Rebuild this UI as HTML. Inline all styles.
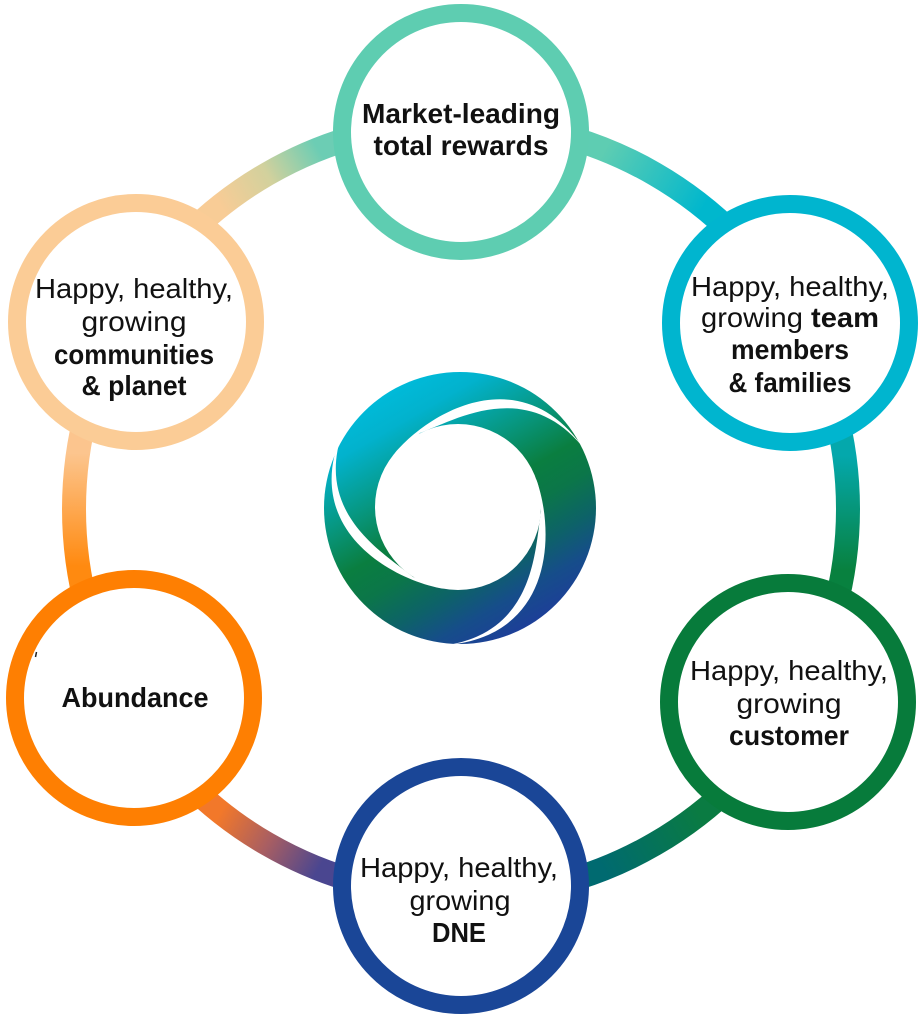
<!DOCTYPE html>
<html>
<head>
<meta charset="utf-8">
<style>
html,body{margin:0;padding:0;background:#fff;}
svg{display:block;}
text{font-family:"Liberation Sans",sans-serif;font-size:28px;fill:#111;text-anchor:middle;}
.b{font-weight:bold;}
</style>
</head>
<body>
<svg width="922" height="1018" viewBox="0 0 922 1018" xmlns="http://www.w3.org/2000/svg">
<defs>
  <linearGradient id="g1" gradientUnits="userSpaceOnUse" x1="461" y1="132" x2="790" y2="323">
    <stop offset="0.35" stop-color="#5ecdb2"/>
    <stop offset="0.65" stop-color="#00b7cd"/>
  </linearGradient>
  <linearGradient id="g2" gradientUnits="userSpaceOnUse" x1="790" y1="323" x2="788" y2="702">
    <stop offset="0.35" stop-color="#04a8ac"/>
    <stop offset="0.65" stop-color="#08813f"/>
  </linearGradient>
  <linearGradient id="g3" gradientUnits="userSpaceOnUse" x1="788" y1="702" x2="461" y2="886">
    <stop offset="0.35" stop-color="#0a7b42"/>
    <stop offset="0.65" stop-color="#006a70"/>
  </linearGradient>
  <linearGradient id="g4" gradientUnits="userSpaceOnUse" x1="461" y1="886" x2="134" y2="698">
    <stop offset="0.35" stop-color="#4a4690"/>
    <stop offset="0.5" stop-color="#a85e62"/>
    <stop offset="0.65" stop-color="#f2782a"/>
  </linearGradient>
  <linearGradient id="g5" gradientUnits="userSpaceOnUse" x1="134" y1="698" x2="136" y2="322">
    <stop offset="0.35" stop-color="#ff8a10"/>
    <stop offset="0.65" stop-color="#fcc58e"/>
  </linearGradient>
  <linearGradient id="g6" gradientUnits="userSpaceOnUse" x1="136" y1="322" x2="461" y2="132">
    <stop offset="0.35" stop-color="#f8cc96"/>
    <stop offset="0.5" stop-color="#d2d19d"/>
    <stop offset="0.65" stop-color="#6ccdb4"/>
  </linearGradient>
  <linearGradient id="lg" gradientUnits="userSpaceOnUse" x1="392" y1="390" x2="528" y2="626">
    <stop offset="0" stop-color="#00bad9"/>
    <stop offset="0.12" stop-color="#02b2cd"/>
    <stop offset="0.33" stop-color="#079780"/>
    <stop offset="0.5" stop-color="#0a7e40"/>
    <stop offset="0.62" stop-color="#0b7649"/>
    <stop offset="0.76" stop-color="#0d6268"/>
    <stop offset="0.88" stop-color="#164d8a"/>
    <stop offset="1" stop-color="#1d3f98"/>
  </linearGradient>
</defs>

<!-- connectors -->
<g fill="none" stroke-width="24">
  <path d="M461 122 A387 387 0 0 1 796.15 315.5" stroke="url(#g1)"/>
  <path d="M796.15 315.5 A387 387 0 0 1 796.15 702.5" stroke="url(#g2)"/>
  <path d="M796.15 702.5 A387 387 0 0 1 461 896" stroke="url(#g3)"/>
  <path d="M461 896 A387 387 0 0 1 125.85 702.5" stroke="url(#g4)"/>
  <path d="M125.85 702.5 A387 387 0 0 1 125.85 315.5" stroke="url(#g5)"/>
  <path d="M125.85 315.5 A387 387 0 0 1 461 122" stroke="url(#g6)"/>
</g>

<!-- circles -->
<g fill="#fff" stroke-width="18">
  <circle cx="461" cy="132" r="119" stroke="#5ecdb1"/>
  <circle cx="790" cy="323" r="119" stroke="#00b5cf"/>
  <circle cx="788" cy="702" r="119" stroke="#077b3b"/>
  <circle cx="461" cy="886" r="119" stroke="#1a4697"/>
  <circle cx="134" cy="698" r="119" stroke="#fe7f02"/>
  <circle cx="136" cy="322" r="119" stroke="#fbcc96"/>
</g>

<!-- center logo -->
<circle cx="460" cy="508" r="136" fill="url(#lg)"/>
<circle cx="458" cy="507" r="83" fill="#fff"/>
<g fill="#fff">
  <path d="M394.4 453.6 C430 411 520 360 582 446 C525 378 455 420 420 433 Z"/>
  <path d="M394.4 453.6 C430 411 520 360 582 446 C525 378 455 420 420 433 Z" transform="rotate(120 458 507)"/>
  <path d="M394.4 453.6 C430 411 520 360 582 446 C525 378 455 420 420 433 Z" transform="rotate(-120 458 507)"/>
</g>

<!-- stray mark -->
<line x1="36.5" y1="652" x2="35.5" y2="657" stroke="#222" stroke-width="1.5"/>

<!-- labels -->
<text class="b" x="461" y="123" textLength="198" lengthAdjust="spacingAndGlyphs">Market-leading</text>
<text class="b" x="461" y="155" textLength="175" lengthAdjust="spacingAndGlyphs">total rewards</text>

<text x="790" y="296" textLength="198" lengthAdjust="spacingAndGlyphs">Happy, healthy,</text>
<text x="790" y="327" textLength="178" lengthAdjust="spacingAndGlyphs">growing <tspan class="b">team</tspan></text>
<text class="b" x="790" y="359" textLength="118" lengthAdjust="spacingAndGlyphs">members</text>
<text class="b" x="790" y="392" textLength="123" lengthAdjust="spacingAndGlyphs">&amp; families</text>

<text x="134" y="298" textLength="198" lengthAdjust="spacingAndGlyphs">Happy, healthy,</text>
<text x="134" y="331" textLength="105" lengthAdjust="spacingAndGlyphs">growing</text>
<text class="b" x="134" y="364" textLength="160" lengthAdjust="spacingAndGlyphs">communities</text>
<text class="b" x="134" y="395" textLength="105" lengthAdjust="spacingAndGlyphs">&amp; planet</text>

<text x="789" y="680" textLength="198" lengthAdjust="spacingAndGlyphs">Happy, healthy,</text>
<text x="789" y="713" textLength="105" lengthAdjust="spacingAndGlyphs">growing</text>
<text class="b" x="789" y="745" textLength="120" lengthAdjust="spacingAndGlyphs">customer</text>

<text class="b" x="135" y="707" textLength="147" lengthAdjust="spacingAndGlyphs">Abundance</text>

<text x="459" y="877" textLength="198" lengthAdjust="spacingAndGlyphs">Happy, healthy,</text>
<text x="460" y="910" textLength="101" lengthAdjust="spacingAndGlyphs">growing</text>
<text class="b" x="459" y="942" textLength="54" lengthAdjust="spacingAndGlyphs">DNE</text>
</svg>
</body>
</html>
